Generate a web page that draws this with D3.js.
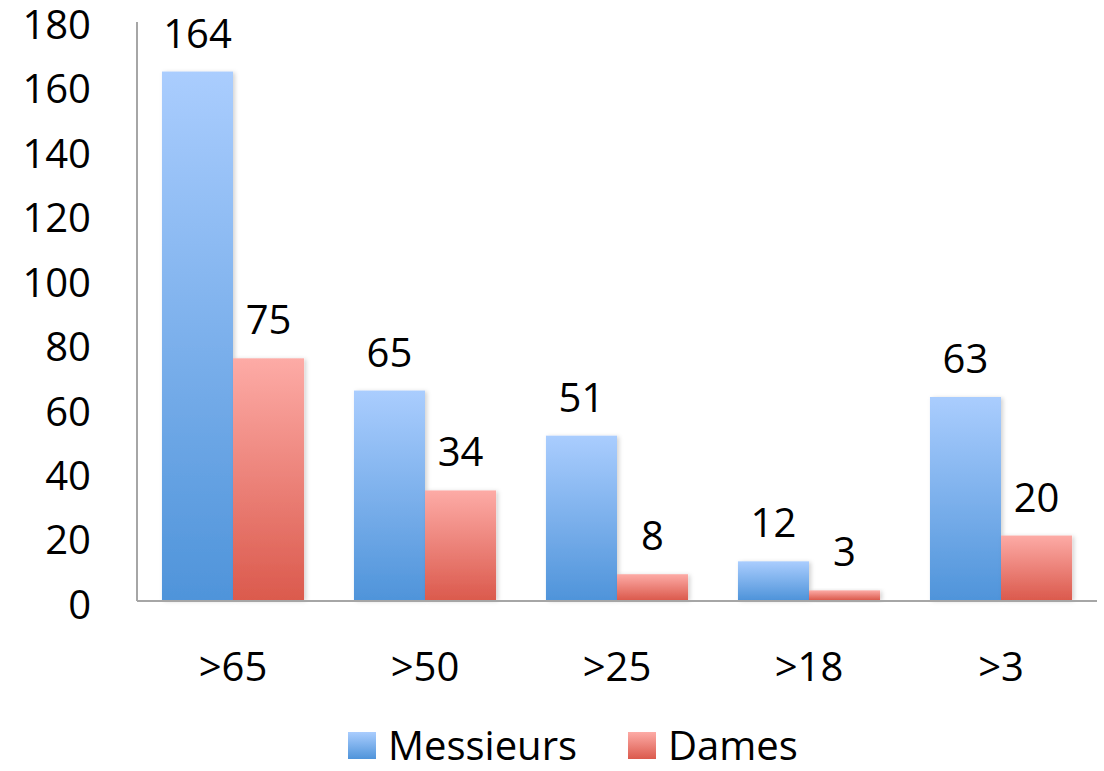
<!DOCTYPE html>
<html><head><meta charset="utf-8">
<script src="https://cdn.jsdelivr.net/npm/d3@7"></script>
<style>html,body{margin:0;padding:0;background:#fff;} text{font-family:"Open Sans",sans-serif;fill:#000;}</style>
</head><body>
<svg id="c" width="1104" height="771"></svg>
<script>
const categories = [">65", ">50", ">25", ">18", ">3"];
const seriesNames = ["Messieurs", "Dames"];
const messieurs = [164, 65, 51, 12, 63];
const dames = [75, 34, 8, 3, 20];
const yTicks = [0, 20, 40, 60, 80, 100, 120, 140, 160, 180];

const FS = "40px";
const svg = d3.select("#c");
const defs = svg.append("defs");
function grad(id, c1, c2){
  const g = defs.append("linearGradient").attr("id", id).attr("x1",0).attr("y1",0).attr("x2",0).attr("y2",1);
  g.append("stop").attr("offset","0%").attr("stop-color",c1);
  g.append("stop").attr("offset","100%").attr("stop-color",c2);
}
grad("gBlue", "#aacdfe", "#4f94da");
grad("gRed", "#fdaba6", "#db5a4d");
const f = defs.append("filter").attr("id","sh").attr("x","-20%").attr("y","-20%").attr("width","150%").attr("height","150%");
f.append("feDropShadow").attr("dx",2).attr("dy",1).attr("stdDeviation",2).attr("flood-color","#000").attr("flood-opacity",0.18);

const pL = 137, pR = 1097, pT = 20, pB = 600;
const x = d3.scaleBand().domain(categories).range([pL, pR]).paddingInner(0.26).paddingOuter(0.13);
const xs = d3.scaleBand().domain(seriesNames).range([0, x.bandwidth()]);
const y = d3.scaleLinear().domain([0, 180]).range([pB, pT]);

// y tick labels
const yAxis = d3.axisLeft(y).tickValues(yTicks).tickSize(0).tickPadding(0);
const ya = svg.append("g").attr("transform", `translate(${pL-46},0)`).call(yAxis);
ya.select(".domain").remove();
ya.selectAll("text").style("font-size",FS).style("font-family","'Open Sans',sans-serif").attr("fill","#000").attr("dy","0.46em");

const data = categories.map((c,i)=>({c, vals:[{s:"Messieurs", v:messieurs[i]},{s:"Dames", v:dames[i]}]}));
const groups = svg.append("g").selectAll("g").data(data).join("g")
  .attr("transform", d=>`translate(${x(d.c)},0)`);
groups.selectAll("rect").data(d=>d.vals).join("rect")
  .attr("x", d=>xs(d.s)).attr("width", xs.bandwidth())
  .attr("y", d=>y(d.v)).attr("height", d=>y(0)-y(d.v))
  .attr("fill", d=>d.s==="Messieurs"?"url(#gBlue)":"url(#gRed)")
  .attr("filter","url(#sh)");
groups.selectAll("text").data(d=>d.vals).join("text")
  .attr("x", d=>xs(d.s)+xs.bandwidth()/2).attr("y", d=>y(d.v)-24)
  .attr("text-anchor","middle").style("font-size",FS).text(d=>d.v);

// axes lines
svg.append("line").attr("x1",pL).attr("x2",pL).attr("y1",22).attr("y2",pB+1)
  .attr("stroke","#a6a6a6").attr("stroke-width",2);
const xAxis = d3.axisBottom(x).tickSize(0).tickPadding(0);
const xa = svg.append("g").attr("transform",`translate(0,${pB})`).call(xAxis);
xa.select(".domain").remove();
xa.selectAll("text").style("font-size",FS).style("font-family","'Open Sans',sans-serif").attr("fill","#000").attr("y",67).attr("dy","0.36em");
svg.append("line").attr("x1",pL).attr("x2",pR).attr("y1",pB+1).attr("y2",pB+1)
  .attr("stroke","#a6a6a6").attr("stroke-width",2);

// legend
const legendX = [348, 628];
const lg = svg.append("g").selectAll("g").data(seriesNames).join("g")
  .attr("transform",(d,i)=>`translate(${legendX[i]},732)`);
lg.append("rect").attr("width",28).attr("height",27)
  .attr("fill",(d,i)=>i===0?"url(#gBlue)":"url(#gRed)");
lg.append("text").attr("x",40).attr("y",14).attr("dy","0.36em").style("font-size",FS).text(d=>d);
</script>
</body></html>
